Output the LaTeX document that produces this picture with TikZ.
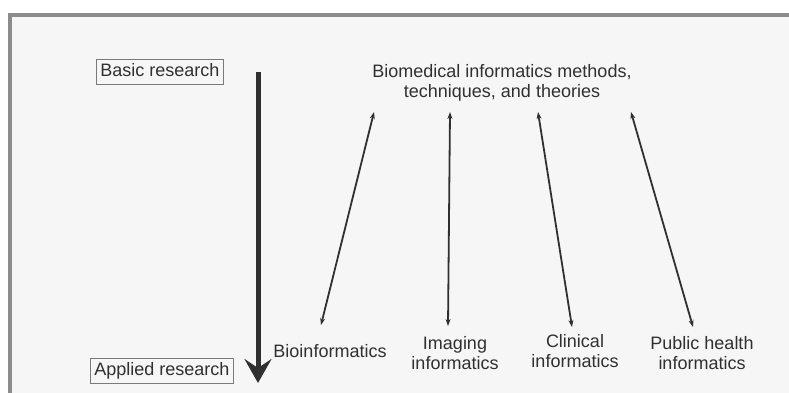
\documentclass[tikz,border=0pt]{standalone}
\usepackage{fontspec}
\setmainfont{Liberation Sans}
\usetikzlibrary{arrows.meta,positioning}
\definecolor{Ink}{HTML}{303030}
\definecolor{Rim}{HTML}{8C8C8C}
\definecolor{Paper}{HTML}{F6F6F6}
\definecolor{BoxLine}{HTML}{7A7A7A}
\tikzset{
  >=Stealth,
  lab/.style={font=\fontsize{18}{20}\selectfont,text=Ink,align=center,inner sep=0pt},
  tag/.style={lab,draw=BoxLine,line width=.8pt,inner xsep=4pt,inner ysep=4pt,text height=13pt,text depth=4pt},
  flow/.style={-{Stealth[length=24pt,width=27pt,inset=9pt]},line width=5pt,draw=Ink},
  link/.style={{Stealth[length=7pt,width=5pt]}-{Stealth[length=7pt,width=5pt]},line width=1.8pt,draw=Ink}
}
\begin{document}
\begin{tikzpicture}[x=1pt,y=-1pt]
    \useasboundingbox (0,0) rectangle (789,392);
    \clip (0,0) rectangle (789,392);
    \fill[white] (0,0) rectangle (789,392);
    \draw[Rim,line width=4pt,fill=Paper] (10,15) rectangle (820,420);
    % research axis
    \node[tag] (basic) at (160,72) {Basic research};
    \node[tag] (applied) at (162,371) {Applied research};
    \coordinate (ax-top) at (258,72); \coordinate (ax-bot) at (258,383);
    \draw[flow] (ax-top)--(ax-bot);
    % methods and application areas
    \node[lab] (methods) at (502,83) {Biomedical informatics methods,\\techniques, and theories};
    \node[lab] (bio) at (330,351) {Bioinformatics};
    \node[lab] (img) at (455,353) {Imaging\\informatics};
    \node[lab] (clin) at (575,351) {Clinical\\informatics};
    \node[lab] (pub) at (702,353) {Public health\\informatics};
    \coordinate (bio-t) at (374,112); \coordinate (bio-b) at (321,325);
    \coordinate (img-t) at (450,112); \coordinate (img-b) at (448,326);
    \coordinate (clin-t) at (538,112); \coordinate (clin-b) at (572,327);
    \coordinate (pub-t) at (631,112); \coordinate (pub-b) at (693,327);
    \draw[link] (bio-b)--(bio-t);
    \draw[link] (img-b)--(img-t);
    \draw[link] (clin-b)--(clin-t);
    \draw[link] (pub-b)--(pub-t);
  \end{tikzpicture}
\end{document}
